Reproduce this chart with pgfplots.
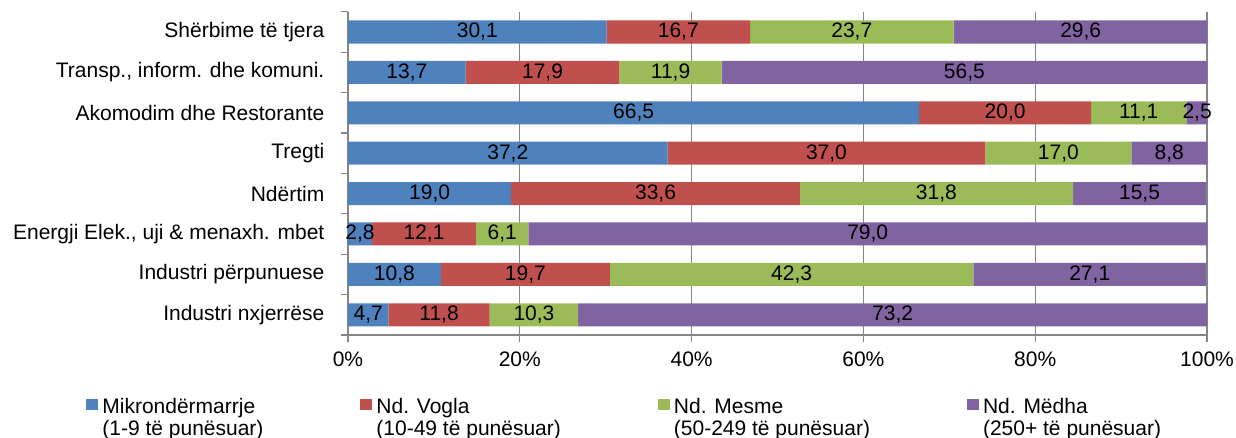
\documentclass[border=0pt]{standalone}
\usepackage{pgfplots}
\pgfplotsset{compat=1.18}
\usepackage{pgfplotstable}
\usepackage{fontspec}
\setmainfont{Liberation Sans}
\newcommand\fsz{\fontsize{10.5}{11}\selectfont}
\definecolor{cblue}{HTML}{4F81BD}
\definecolor{cred}{HTML}{C0504D}
\definecolor{cgreen}{HTML}{9BBB59}
\definecolor{cpurple}{HTML}{8064A2}
\definecolor{axgray}{HTML}{868686}
\pgfplotstableread{
y a b c d
0 4.7 11.8 10.3 73.2
1 10.8 19.7 42.3 27.1
2 2.8 12.1 6.1 79.0
3 19.0 33.6 31.8 15.5
4 37.2 37.0 17.0 8.8
5 66.5 20.0 11.1 2.5
6 13.7 17.9 11.9 56.5
7 30.1 16.7 23.7 29.6
}\data
\newcommand\lent[2]{\begin{tabular}[t]{@{}l@{}}#1\\#2\end{tabular}}
\begin{document}
\begin{tikzpicture}[font=\fsz]
\begin{axis}[
  at={(0,0)}, anchor=south west,
  scale only axis, width=429.5pt, height=161.6pt,
  xbar stacked, bar width=11.5pt,
  xmin=0, xmax=100, ymin=-0.5, ymax=7.5,
  axis x line*=bottom, axis y line*=left,
  axis line style={draw=axgray, line width=0.6pt},
  tick align=outside,
  major tick length=3.5pt,
  xtick={0,20,40,60,80,100},
  xticklabels={0\%,20\%,40\%,60\%,80\%,100\%},
  xtick style={draw=axgray, line width=0.6pt},
  xticklabel style={font=\fsz, yshift=-1.5pt},
  xmajorgrids, major grid style={draw=axgray, line width=0.6pt},
  ytick={-0.5,0.5,...,7.5}, yticklabels={},
  ytick style={draw=axgray, line width=0.6pt},
  extra y ticks={0,1,2,3,4,5,6,7},
  extra y tick labels={Industri nxjerrëse, Industri përpunuese, {Energji Elek., uji \& menaxh. mbet}, Ndërtim, Tregti, Akomodim dhe Restorante, {Transp., inform. dhe komuni.}, Shërbime të tjera},
  extra y tick style={major tick length=0pt, ytick style={draw=none}, yticklabel style={font=\fsz, xshift=-8.3pt}},
  legend columns=4,
  legend image code/.code={\fill[#1] (0pt,2pt) rectangle (6pt,7.5pt);},
  legend style={at={(0,0)}, anchor=north west, xshift=-131pt, yshift=-29.5pt,
    draw=none, fill=none, inner sep=0pt, font=\fsz,
    cells={anchor=base west},
    /tikz/every even column/.append style={column sep=46.5pt}},
]
\addplot[fill=cblue, draw=none] table[x=a, y=y]{\data};
\addlegendentry{\lent{Mikrondërmarrje}{(1-9 të punësuar)}}
\addplot[fill=cred, draw=none] table[x=b, y=y]{\data};
\addlegendentry{\lent{Nd. Vogla}{(10-49 të punësuar)}}
\addplot[fill=cgreen, draw=none] table[x=c, y=y]{\data};
\addlegendentry{\lent{Nd. Mesme}{(50-249 të punësuar)}}
\addplot[fill=cpurple, draw=none] table[x=d, y=y]{\data};
\addlegendentry{\lent{Nd. Mëdha}{(250+ të punësuar)}}
\end{axis}
\begin{axis}[
  at={(0,0)}, anchor=south west,
  scale only axis, width=429.5pt, height=161.6pt,
  xmin=0, xmax=100, ymin=-0.5, ymax=7.5,
  hide axis, clip=false,
  nodes near coords, point meta=explicit,
  nodes near coords style={anchor=center, font=\fsz, text=black,
    /pgf/number format/.cd, fixed, fixed zerofill, precision=1, use comma, assume math mode=true},
]
\addplot[only marks, mark=*, mark size=0pt, mark options={draw=none, fill=none}] table[x expr=\thisrow{a}/2, y=y, meta=a]{\data};
\addplot[only marks, mark=*, mark size=0pt, mark options={draw=none, fill=none}] table[x expr=\thisrow{a}+\thisrow{b}/2, y=y, meta=b]{\data};
\addplot[only marks, mark=*, mark size=0pt, mark options={draw=none, fill=none}] table[x expr=\thisrow{a}+\thisrow{b}+\thisrow{c}/2, y=y, meta=c]{\data};
\addplot[only marks, mark=*, mark size=0pt, mark options={draw=none, fill=none}] table[x expr=\thisrow{a}+\thisrow{b}+\thisrow{c}+\thisrow{d}/2, y=y, meta=d]{\data};
\end{axis}
\pgfresetboundingbox
\useasboundingbox (-174pt,-51.5pt) rectangle (444pt,167.5pt);
\end{tikzpicture}
\end{document}
